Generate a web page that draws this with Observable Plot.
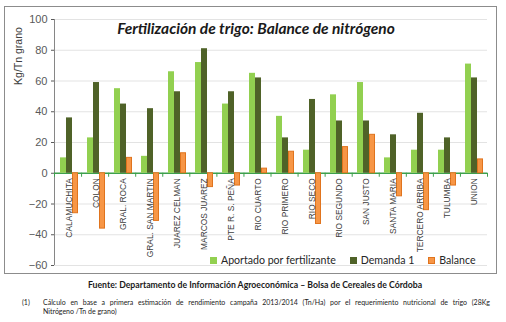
<!DOCTYPE html>
<html><head><meta charset="utf-8">
<script src="https://cdn.jsdelivr.net/npm/d3@7"></script>
<script src="https://cdn.jsdelivr.net/npm/@observablehq/plot@0.6"></script>
<style>
body{margin:0;background:#fff;}
#wrap{position:relative;width:506px;height:322px;overflow:hidden;font-family:Lato,"Liberation Sans",sans-serif;color:#404040;}
#frame{position:absolute;left:4px;top:6px;width:493px;height:268px;border:1px solid #8c8c8c;box-sizing:border-box;}
.layer{position:absolute;left:0;top:0;}
#title{position:absolute;left:0;width:512px;top:19px;text-align:center;font:italic bold 15.5px Lato,sans-serif;color:#1a1a1a;}
#ylab{position:absolute;left:18px;top:56px;transform:translate(-50%,-50%) rotate(-90deg);font-size:10.5px;white-space:nowrap;color:#404040;font-family:"Liberation Sans",sans-serif;}
#legend{position:absolute;left:210px;top:254px;display:flex;gap:14px;font-size:10.6px;color:#262626;align-items:center;}
#legend .it{display:flex;align-items:center;gap:4px;}
#legend .sw{width:7px;height:7px;box-sizing:border-box;}
#src{position:absolute;left:0;width:510px;top:279px;text-align:center;font:bold 8.7px Lato,sans-serif;color:#1a1a1a;}
#note1{position:absolute;left:22px;top:298px;font:7px Lato,sans-serif;color:#1a1a1a;}
#note2{position:absolute;left:43px;top:298px;width:447px;font:7px Lato,sans-serif;color:#1a1a1a;text-align:justify;text-align-last:justify;}
#note3{position:absolute;left:43px;top:307px;font:7px Lato,sans-serif;color:#1a1a1a;}
</style></head>
<body><div id="wrap">
<div id="frame"></div>
<div id="layerA" class="layer"></div>
<div id="layerB" class="layer"></div>
<div id="title">Fertilización de trigo: Balance de nitrógeno</div>
<div id="ylab">Kg/Tn grano</div>
<div id="legend"></div>
<div id="src">Fuente: Departamento de Información Agroeconómica – Bolsa de Cereales de Córdoba</div>
<div id="note1">(1)</div>
<div id="note2">Cálculo en base a primera estimación de rendimiento campaña 2013/2014 (Tn/Ha) por el requerimiento nutricional de trigo (28Kg</div>
<div id="note3">Nitrógeno /Tn de grano)</div>
</div>
<script>
const categories = ["CALAMUCHITA","COLON","GRAL. ROCA","GRAL. SAN MARTIN","JUAREZ CELMAN","MARCOS JUAREZ","PTE R. S. PEÑA","RIO CUARTO","RIO PRIMERO","RIO SECO","RIO SEGUNDO","SAN JUSTO","SANTA MARIA","TERCERO ARRIBA","TULUMBA","UNION"];
const series = ["Aportado por fertilizante","Demanda 1","Balance"];
const colors = ["#92D050","#4F6228","#F79646"];
const aportado = [10,23,55,11,66,72,45,65,37,15,51,59,10,15,15,71];
const demanda  = [36,59,45,42,53,81,53,62,23,48,34,34,25,39,23,62];
const balance  = [-26,-36,10,-31,13,-9,-8,3,14,-33,17,25,-15,-24,-8,9];
const yTicks = [-60,-40,-20,0,20,40,60,80,100];

const W = 506, H = 280, ML = 54, MR = 19, MT = 19, MB = 15;
const green = "#3DA04D";

const rows = categories.flatMap((c, i) => [
  {cat: c, series: series[0], value: aportado[i]},
  {cat: c, series: series[1], value: demanda[i]},
  {cat: c, series: series[2], value: balance[i]}
]);

const plotA = Plot.plot({
  width: W, height: H, marginLeft: ML, marginRight: MR, marginTop: MT, marginBottom: MB,
  style: {background: "transparent", fontFamily: "'Liberation Sans', sans-serif", fontSize: "11px", color: "#595959"},
  x: {domain: [0, categories.length], axis: null},
  y: {domain: [-60, 100], ticks: yTicks, tickSize: 3, tickPadding: 4, label: null, line: false},
  marks: [
    Plot.ruleY(yTicks.filter(t => t !== 0), {stroke: "#e3e3e3"}),
    Plot.ruleX([0], {stroke: "#868686"}),
    Plot.ruleY([0], {stroke: green, strokeWidth: 1.3}),
    Plot.ruleX(d3.range(0, categories.length + 1), {x: d => d, y1: () => 0, y2: () => 0, insetBottom: -4, stroke: green})
  ]
});
document.getElementById("layerA").appendChild(plotA);

const plotB = Plot.plot({
  width: W, height: H, marginLeft: ML, marginRight: MR, marginTop: MT, marginBottom: MB,
  style: {background: "transparent", fontFamily: "'Liberation Sans', sans-serif", fontSize: "9px", color: "#404040"},
  fx: {domain: categories, paddingInner: 0.3, paddingOuter: 0.15, axis: null, label: null},
  x: {domain: series, padding: 0, axis: null},
  y: {domain: [-60, 100], axis: null},
  color: {domain: series, range: colors},
  marks: [
    Plot.barY(rows.filter(d => d.series !== "Balance"), {fx: "cat", x: "series", y: "value", fill: "series"}),
    Plot.barY(rows.filter(d => d.series === "Balance"), {fx: "cat", x: "series", y: "value", fill: "series", stroke: "#E0741E", strokeWidth: 1, insetLeft: 0.5, insetRight: 0.5}),
    Plot.text(categories, {fx: d => d, y: () => 0, text: d => d, rotate: -90, textAnchor: "end", dy: 5, fontSize: 8.4, fill: "#404040"})
  ]
});
document.getElementById("layerB").appendChild(plotB);

const leg = document.getElementById("legend");
series.forEach((s, i) => {
  const it = document.createElement("div"); it.className = "it";
  const sw = document.createElement("div"); sw.className = "sw"; sw.style.background = colors[i];
  if (s === "Balance") sw.style.border = "1px solid #E0741E";
  const t = document.createElement("span"); t.textContent = s;
  it.appendChild(sw); it.appendChild(t); leg.appendChild(it);
});
</script>
</body></html>
